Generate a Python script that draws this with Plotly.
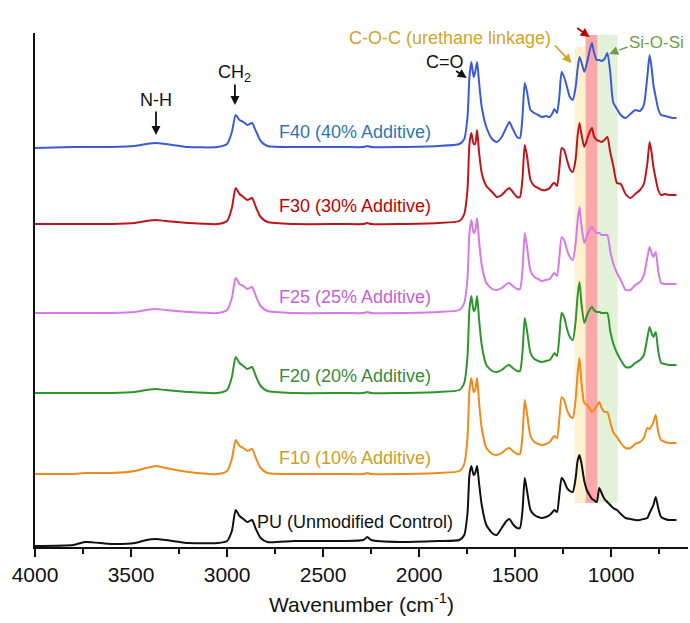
import plotly.graph_objects as go

# Wavenumber grid (cm-1), shared by all spectra
wavenumber = [4000, 3800, 3740, 3600, 3480, 3420, 3370, 3320, 3200, 3050,
              3000, 2975, 2955, 2935, 2915, 2895, 2870, 2850, 2825, 2790,
              2650, 2400, 2290, 2270, 2250, 2100, 1900, 1790, 1765, 1748,
              1738, 1728, 1716, 1708, 1698, 1688, 1674, 1650, 1620, 1596,
              1570, 1545, 1530, 1512, 1490, 1475, 1462, 1450, 1438, 1420,
              1400, 1380, 1360, 1340, 1320, 1305, 1295, 1282, 1270, 1258,
              1245, 1230, 1215, 1200, 1185, 1175, 1165, 1155, 1140, 1125,
              1110, 1100, 1090, 1075, 1062, 1050, 1035, 1020, 1005, 990,
              970, 950, 925, 900, 875, 850, 830, 812, 800, 790,
              780, 768, 755, 740, 720, 700, 680, 660]

# Relative absorbance (a.u.) of each sample, above its own baseline
f40 = [-1, 0, 0, 0, 1, 3, 4, 3, 0, 0,
       3, 15, 32, 27, 25, 22, 24, 16, 6, 1,
       0, 0, 0, 1, 0, 0, 1, 3, 8, 30,
       70, 85, 70, 75, 85, 65, 40, 20, 8, 5,
       10, 20, 25, 18, 10, 9, 30, 64, 55, 37,
       34, 32, 30, 31, 30, 34, 38, 34, 50, 75,
       70, 60, 50, 47, 60, 78, 90, 85, 75, 85,
       98, 104, 95, 87, 87, 86, 88, 94, 75, 45,
       38, 32, 29, 33, 37, 36, 42, 70, 92, 80,
       62, 50, 38, 32, 31, 30, 29, 29]
f30 = [0, 0, 0, 0, 1, 3, 4, 3, 1, 0,
       3, 16, 36, 30, 27, 24, 26, 17, 7, 2,
       0, 0, 0, 1, 0, 0, 1, 3, 10, 35,
       80, 91, 80, 80, 94, 72, 51, 38, 32, 27,
       29, 34, 36, 32, 27, 27, 45, 79, 68, 44,
       38, 36, 34, 34, 36, 40, 41, 38, 55, 76,
       74, 64, 55, 52, 65, 88, 101, 90, 77, 85,
       93, 96, 88, 84, 83, 82, 84, 87, 72, 59,
       41, 40, 30, 26, 30, 34, 40, 60, 82, 72,
       57, 45, 34, 29, 30, 29, 29, 29]
f25 = [0, 0, 0, 0, 1, 3, 4, 3, 1, 0,
       3, 15, 35, 29, 27, 24, 26, 17, 7, 2,
       0, 0, 0, 1, 0, 0, 1, 3, 10, 35,
       80, 93, 80, 82, 95, 72, 48, 30, 24, 23,
       25, 29, 30, 27, 24, 24, 42, 80, 66, 42,
       36, 34, 32, 33, 34, 38, 40, 37, 55, 76,
       73, 63, 56, 53, 70, 92, 106, 88, 70, 78,
       84, 86, 83, 80, 80, 78, 78, 78, 62, 50,
       40, 33, 23, 23, 28, 31, 38, 55, 66, 60,
       56, 61, 42, 30, 29, 29, 29, 29]
f20 = [0, 0, 0, 0, 1, 3, 4, 3, 1, 0,
       3, 16, 36, 30, 27, 24, 26, 17, 7, 2,
       0, 0, 0, 1, 0, 0, 1, 3, 10, 37,
       84, 97, 82, 84, 97, 74, 48, 28, 22, 21,
       23, 27, 28, 25, 22, 22, 40, 75, 62, 40,
       34, 32, 31, 32, 33, 37, 40, 37, 56, 80,
       76, 64, 56, 53, 72, 97, 111, 90, 70, 78,
       84, 86, 83, 81, 81, 80, 80, 80, 62, 50,
       40, 33, 26, 26, 30, 33, 38, 55, 66, 60,
       56, 61, 42, 30, 29, 28, 28, 28]
f10 = [0, 0, 1, 1, 3, 6, 8, 6, 2, 0,
       3, 15, 34, 28, 26, 23, 25, 16, 6, 1,
       0, 0, 0, 1, 0, 0, 1, 3, 10, 37,
       84, 96, 82, 84, 96, 72, 46, 26, 20, 19,
       21, 25, 26, 23, 20, 20, 38, 74, 60, 38,
       32, 30, 29, 30, 32, 36, 38, 36, 55, 77,
       74, 64, 58, 56, 75, 100, 116, 92, 71, 69,
       65, 62, 64, 68, 72, 66, 62, 62, 52, 42,
       37, 31, 26, 26, 30, 32, 36, 46, 45, 48,
       52, 59, 42, 34, 32, 31, 31, 31]
pu = [-3, -2, 1, -1, 0, 3, 4, 3, 0, 0,
      2, 12, 33, 27, 24, 21, 23, 14, 5, 1,
      2, 2, 3, 6, 3, 1, 2, 3, 8, 30,
      68, 77, 68, 70, 77, 60, 38, 18, 10, 8,
      15, 22, 24, 19, 15, 15, 32, 65, 52, 33,
      28, 26, 25, 26, 28, 31, 33, 31, 48, 65,
      62, 55, 52, 51, 65, 82, 88, 80, 62, 52,
      47, 44, 43, 41, 55, 50, 44, 41, 38, 35,
      33, 29, 25, 24, 23, 23, 24, 25, 30, 34,
      38, 46, 35, 26, 24, 23, 23, 23]

series_names = ["F40 (40% Additive)", "F30 (30% Additive)", "F25 (25% Additive)",
                "F20 (20% Additive)", "F10 (10% Additive)", "PU (Unmodified Control)"]
series_values = [f40, f30, f25, f20, f10, pu]
stack_offsets = [400, 323, 234, 154, 73, 4]   # vertical offsets of the stacked spectra
line_colors = ["#3b5bd6", "#c0141c", "#d67ae6", "#2c962c", "#f08a1c", "#111111"]
label_colors = ["#2e75b6", "#c00000", "#c55fd6", "#3a8a3a", "#c8a020", "#111111"]
label_y = [415, 341, 250, 171, 89, 25]

fig = go.Figure()

# highlighted bands
bands = [(1190, 1133, 44, 500, "rgba(255,226,160,0.5)"),
         (1133, 1071, 44, 512, "rgba(250,110,110,0.6)"),
         (1071, 967, 44, 512, "rgba(200,228,180,0.5)")]
for x0, x1, y0, y1, c in bands:
    fig.add_shape(type="rect", x0=x0, x1=x1, y0=y0, y1=y1, xref="x", yref="y",
                  fillcolor=c, line_width=0, layer="below")

for name, vals, off, col in zip(series_names, series_values, stack_offsets, line_colors):
    fig.add_trace(go.Scatter(x=wavenumber, y=[v + off for v in vals], mode="lines",
                             name=name, line=dict(color=col, width=2, shape="spline", smoothing=0.6),
                             showlegend=False))

FONT = "Liberation Sans, Arial, sans-serif"
for name, col, y in zip(series_names, label_colors, label_y):
    fig.add_annotation(x=2335, y=y, text=name, showarrow=False,
                       font=dict(family=FONT, size=18, color=col))

def label(x, y, text, color, size=18):
    fig.add_annotation(x=x, y=y, text=text, showarrow=False,
                       font=dict(family=FONT, size=size, color=color))

def arrow(x0, y0, x1, y1, color):
    fig.add_annotation(x=x1, y=y1, ax=x0, ay=y0, xref="x", yref="y", axref="x", ayref="y",
                       text="", showarrow=True, arrowhead=2, arrowsize=1, arrowwidth=1.8,
                       arrowcolor=color)

label(3370, 447, "N-H", "#111")
arrow(3370, 437, 3370, 412, "#111")
label(2959, 474, "CH<sub>2</sub>", "#111")
arrow(2959, 464, 2959, 442, "#111")
label(1867, 485, "C=O", "#111")
arrow(1815, 477, 1752, 469, "#111")
label(1841, 509, "C-O-C (urethane linkage)", "#cfa52a")
arrow(1300, 503, 1206, 484, "#cfa52a")
label(1497, 525, "C-O-C (PEG)", "#c00000")
arrow(1185, 520, 1112, 510, "#c00000")
label(764, 505, "Si-O-Si", "#6e9c4a", 17)
fig.add_shape(type="line", x0=915, y0=500, x1=985, y1=495, xref="x", yref="y",
              line=dict(color="#6e9c4a", width=1.5, dash="dash"))
arrow(985, 495, 1010, 493, "#6e9c4a")

fig.update_layout(
    width=690, height=623,
    margin=dict(l=35, r=2, t=33, b=76, autoexpand=False),
    plot_bgcolor="white", paper_bgcolor="white",
    font=dict(family=FONT, color="#111"),
    xaxis=dict(range=[4000, 600], dtick=500, tick0=0, showgrid=False, zeroline=False,
               automargin=False,
               showline=True, linecolor="#111", linewidth=1.5,
               ticks="outside", ticklen=8, tickwidth=1.5, tickcolor="#111",
               tickfont=dict(size=21, family=FONT, color="#111"),
               minor=dict(dtick=250, tick0=0, ticks="outside", ticklen=5, tickwidth=1.5, tickcolor="#111"),
               title=dict(text="Wavenumber (cm<sup>-1</sup>)", font=dict(size=21, family=FONT, color="#111"),
                          standoff=12)),
    yaxis=dict(range=[0, 514], showgrid=False, zeroline=False, showticklabels=False,
               automargin=False,
               showline=True, linecolor="#111", linewidth=1.5, ticks=""),
)

fig.write_html("out.html", config={"displayModeBar": False},
               post_script="document.body.style.margin='0px';document.body.style.overflow='hidden';")
